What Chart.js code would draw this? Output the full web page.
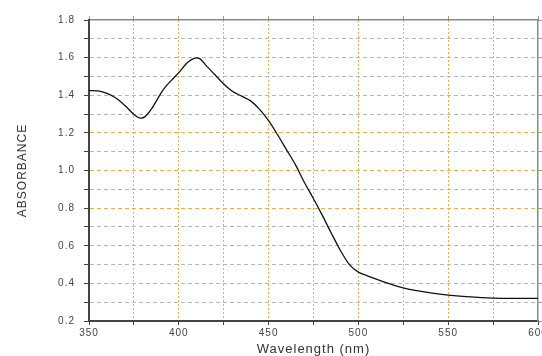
<!DOCTYPE html>
<html>
<head>
  <meta charset="UTF-8" />
  <title>Absorbance</title>
  <script src="https://cdn.jsdelivr.net/npm/chart.js"></script>
  <style>
    body { margin: 0; background: #fff; }
    canvas { display: block; }
  </style>
</head>
<body>
  <canvas id="grafica" width="542" height="356"></canvas>

  <script>
    // datos
    const wavelengths = [350, 355, 360, 365, 370, 375, 378, 381, 385, 390, 393, 397, 400, 405, 409, 412, 415, 420, 425, 430, 435, 440, 445, 450, 455, 460, 465, 470, 475, 480, 485, 490, 495, 500, 505, 510, 520, 530, 540, 550, 560, 575, 590, 600];
    const absorbance = [1.425, 1.423, 1.41, 1.385, 1.345, 1.298, 1.28, 1.285, 1.33, 1.41, 1.45, 1.49, 1.52, 1.575, 1.597, 1.592, 1.56, 1.51, 1.46, 1.42, 1.395, 1.37, 1.325, 1.265, 1.19, 1.11, 1.03, 0.935, 0.85, 0.76, 0.665, 0.575, 0.5, 0.46, 0.44, 0.422, 0.39, 0.365, 0.35, 0.338, 0.33, 0.322, 0.32, 0.32];
    const xTicks = [350, 400, 450, 500, 550, 600];
    const yTicks = [0.2, 0.4, 0.6, 0.8, 1.0, 1.2, 1.4, 1.6, 1.8];

    const naranja = 'rgba(240, 170, 60, 0.95)';
    const gris = 'rgba(175, 175, 175, 0.9)';

    Chart.defaults.font.family = "'Liberation Sans', Arial, sans-serif";

    const espaciado = {
      id: 'espaciado',
      beforeLayout(c) { c.ctx.letterSpacing = '1px'; },
      beforeDraw(c) { c.ctx.letterSpacing = '1px'; }
    };

    const esMayorY = v => yTicks.some(t => Math.abs(t - v) < 1e-6);
    const esMayorX = v => xTicks.includes(Math.round(v));

    // el borde del area se dibuja gris, sin linea de rejilla encima
    const colorX = c => (c.tick.value >= 600) ? 'rgba(0,0,0,0)' : (esMayorX(c.tick.value) ? naranja : gris);
    const colorY = c => (c.tick.value >= 1.79) ? 'rgba(0,0,0,0)' : (esMayorY(c.tick.value) ? naranja : gris);

    const ctx = document.getElementById('grafica').getContext('2d');
    new Chart(ctx, {
      type: 'scatter',
      data: {
        datasets: [{
          data: wavelengths.map((w, i) => ({ x: w, y: absorbance[i] })),
          showLine: true,
          borderColor: '#111',
          borderWidth: 1.3,
          pointRadius: 0,
          tension: 0.3
        }]
      },
      options: {
        responsive: false,
        animation: false,
        layout: { padding: { left: 10, top: 16, right: 0, bottom: 0 } },
        plugins: { legend: { display: false }, tooltip: { enabled: false } },
        scales: {
          x: {
            type: 'linear',
            position: 'bottom',
            min: 350, max: 600,
            afterFit(s) { s.height = 35; s.paddingLeft = 0; s.paddingRight = 0; },
            ticks: {
              stepSize: 25,
              maxRotation: 0,
              padding: 2,
              color: '#444',
              font: { size: 10 },
              callback: v => esMayorX(v) ? String(v) : ''
            },
            grid: {
              color: colorX,
              lineWidth: 1,
              tickLength: 4,
              tickColor: '#444'
            },
            border: { color: '#444', width: 2, dash: [2, 2] },
            title: {
              display: true,
              text: 'Wavelength (nm)',
              color: '#333',
              font: { size: 13, lineHeight: 1 },
              padding: { top: 0, bottom: 0 }
            }
          },
          x2: {
            type: 'linear',
            position: 'top',
            min: 350, max: 600,
            afterFit(s) { s.height = 4; s.paddingLeft = 0; s.paddingRight = 0; },
            ticks: { stepSize: 25, display: false },
            grid: { drawOnChartArea: false, tickLength: 4, tickColor: '#999' },
            border: { color: '#888', width: 1.5 }
          },
          y: {
            type: 'linear',
            position: 'left',
            min: 0.2, max: 1.8,
            afterFit(s) { s.width = 79; },
            ticks: {
              stepSize: 0.1,
              padding: 9,
              color: '#444',
              font: { size: 10 },
              callback: v => esMayorY(v) ? v.toFixed(1) : ''
            },
            grid: {
              color: colorY,
              lineWidth: 1,
              tickLength: 5,
              tickColor: '#444'
            },
            border: { color: '#444', width: 2, dash: [4, 3] },
            title: {
              display: true,
              text: 'ABSORBANCE',
              color: '#333',
              font: { size: 12 },
              padding: { top: 5, bottom: 0 }
            }
          },
          y2: {
            type: 'linear',
            position: 'right',
            min: 0.2, max: 1.8,
            afterFit(s) { s.width = 4; },
            ticks: { stepSize: 0.1, display: false },
            grid: { drawOnChartArea: false, tickLength: 4, tickColor: '#999' },
            border: { color: '#888', width: 1.5 }
          }
        }
      },
      plugins: [espaciado]
    });
  </script>
</body>
</html>
